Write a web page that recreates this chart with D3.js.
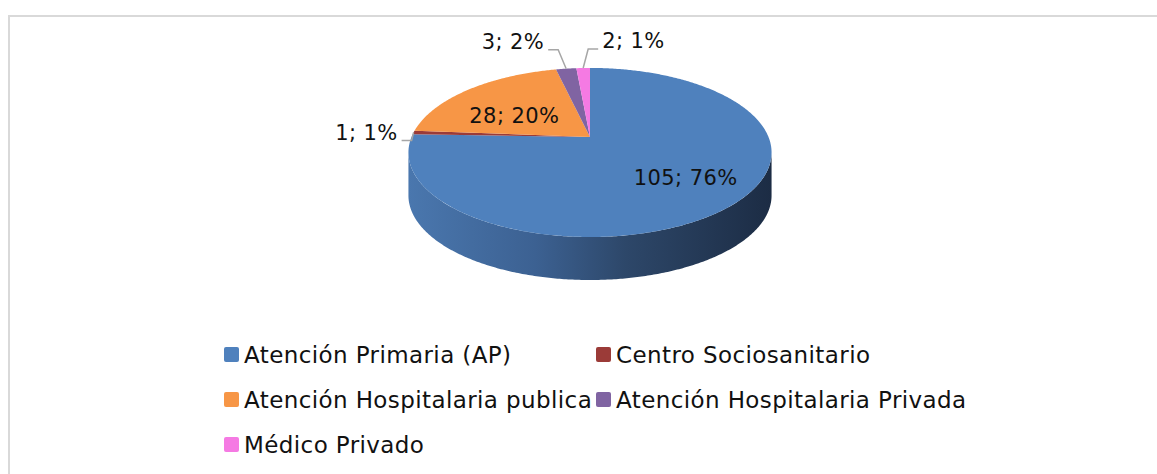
<!DOCTYPE html>
<html>
<head>
<meta charset="utf-8">
<script src="https://cdn.jsdelivr.net/npm/d3@7"></script>
<style>
  body { margin: 0; background: #fff; }
  text { font-family: "DejaVu Sans", sans-serif; fill: #111; letter-spacing: 0.4px; }
</style>
</head>
<body>
<div id="chart"></div>
<script>
var svgWidth = 1157;
var svgHeight = 474;

// data
var categories = ["Atención Primaria (AP)", "Centro Sociosanitario", "Atención Hospitalaria publica",
  "Atención Hospitalaria Privada", "Médico Privado"];
var values = [105, 1, 28, 3, 2];
var colors = ["#4f81bd", "#9b3b38", "#f79646", "#8064a2", "#f57ae3"];

// pie geometry (perspective disc)
var cx = 590, cy = 137;
var B = 178.5, A = 81.7, k = 0.183;
var depth = 43;

function proj(theta, r) {
  var u = r * Math.sin(theta), v = r * Math.cos(theta);
  var d = 1 + k * v;
  return [cx + B * u / d, cy - A * v / d];
}

function arcPoints(a0, a1, r) {
  var n = Math.max(2, Math.ceil((a1 - a0) / 0.01));
  var pts = [];
  for (var i = 0; i <= n; i++) pts.push(proj(a0 + (a1 - a0) * i / n, r));
  return pts;
}

var svg = d3.select("#chart").append("svg")
  .attr("width", svgWidth)
  .attr("height", svgHeight);

// frame
svg.append("rect")
  .attr("x", 9).attr("y", 16)
  .attr("width", 1160).attr("height", 480)
  .attr("fill", "none")
  .attr("stroke", "#d9d9d9")
  .attr("stroke-width", 2);

var defs = svg.append("defs");
var grad = defs.append("linearGradient")
  .attr("id", "sideGrad")
  .attr("gradientUnits", "userSpaceOnUse")
  .attr("x1", cx - 182).attr("x2", cx + 182)
  .attr("y1", 0).attr("y2", 0);
grad.append("stop").attr("offset", "0%").attr("stop-color", "#4a77ae");
grad.append("stop").attr("offset", "35%").attr("stop-color", "#3c6192");
grad.append("stop").attr("offset", "60%").attr("stop-color", "#2d4769");
grad.append("stop").attr("offset", "100%").attr("stop-color", "#1c2c44");

var pie = d3.pie().sort(null).value(d => d);
var arcs = pie(values);

// visible side wall range (front half of the disc)
var thR = Math.acos(-k), thL = 2 * Math.PI - Math.acos(-k);

var sideGroup = svg.append("g");
arcs.forEach(function(a, i) {
  var a0 = Math.max(a.startAngle, thR), a1 = Math.min(a.endAngle, thL);
  if (a1 <= a0) return;
  var top = arcPoints(a0, a1, 1);
  var bottom = top.slice().reverse().map(p => [p[0], p[1] + depth]);
  sideGroup.append("path")
    .attr("d", "M" + top.concat(bottom).map(p => p.join(",")).join("L") + "Z")
    .attr("fill", i === 0 ? "url(#sideGrad)" : d3.color(colors[i]).darker(1));
});

var topGroup = svg.append("g");
topGroup.selectAll("path")
  .data(arcs)
  .enter()
  .append("path")
  .attr("d", function(a) {
    var pts = [[cx, cy]].concat(arcPoints(a.startAngle, a.endAngle, 1));
    return "M" + pts.map(p => p.join(",")).join("L") + "Z";
  })
  .attr("fill", (a, i) => colors[i]);

// data labels
var total = d3.sum(values);
function labelText(i) { return values[i] + "; " + Math.round(values[i] / total * 100) + "%"; }

// inside labels
var inside = [{ i: 0, r: 0.66, dx: 6, dy: -2 }, { i: 2, r: 0.6, dx: 0, dy: 9 }];
inside.forEach(function(o) {
  var a = arcs[o.i];
  var p = proj((a.startAngle + a.endAngle) / 2, o.r);
  svg.append("text")
    .attr("x", p[0] + o.dx).attr("y", p[1] + o.dy)
    .attr("text-anchor", "middle")
    .attr("dy", "0.35em")
    .attr("font-size", 21)
    .text(labelText(o.i));
});

// outside labels with leader lines: [elbow offset, end offset, anchor side]
var outside = [
  { i: 1, elbow: [-2, 8], end: [-12, 8], anchor: "end" },
  { i: 3, elbow: [-8, -19], end: [-18, -19], anchor: "end" },
  { i: 4, elbow: [5, -19], end: [15, -19], anchor: "start" }
];
outside.forEach(function(o) {
  var a = arcs[o.i];
  var p = proj((a.startAngle + a.endAngle) / 2, 1);
  var e = [p[0] + o.elbow[0], p[1] + o.elbow[1]];
  var f = [p[0] + o.end[0], p[1] + o.end[1]];
  svg.append("polyline")
    .attr("points", [p, e, f].map(q => q.join(",")).join(" "))
    .attr("fill", "none")
    .attr("stroke", "#a6a6a6")
    .attr("stroke-width", 1.5);
  svg.append("text")
    .attr("x", f[0] + (o.anchor === "end" ? -4 : 4))
    .attr("y", f[1] - 8)
    .attr("text-anchor", o.anchor)
    .attr("dy", "0.35em")
    .attr("font-size", 21)
    .text(labelText(o.i));
});

// legend
var legendX = [224, 596], legendY = [355, 400, 445];
var legend = svg.append("g");
categories.forEach(function(c, i) {
  var x = legendX[i % 2], y = legendY[Math.floor(i / 2)];
  legend.append("rect")
    .attr("x", x).attr("y", y - 8)
    .attr("width", 15).attr("height", 15)
    .attr("rx", 2)
    .attr("fill", colors[i]);
  legend.append("text")
    .attr("x", x + 20).attr("y", y)
    .attr("dy", "0.35em")
    .attr("font-size", 23)
    .text(c);
});
</script>
</body>
</html>
